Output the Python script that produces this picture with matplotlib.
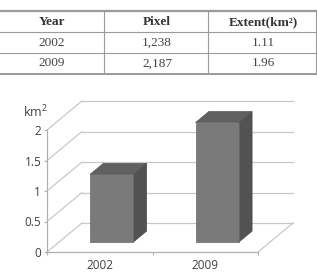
import matplotlib.pyplot as plt
from matplotlib.patches import Polygon

# table data
col_labels = ["Year", "Pixel", "Extent(km\u00b2)"]
table_years = ["2002", "2009"]
table_pixels = ["1,238", "2,187"]
table_extent = ["1.11", "1.96"]

# chart data
years = ["2002", "2009"]
extent = [1.11, 1.96]
y_ticks = [0, 0.5, 1, 1.5, 2]

plt.rcParams['mathtext.fontset'] = 'custom'
plt.rcParams['mathtext.rm'] = 'Open Sans'

fig = plt.figure(figsize=(3.17, 2.74), dpi=100)

# ---- table drawn in pixel coordinates ----
axt = fig.add_axes([0, 0, 1, 1])
axt.set_xlim(0, 317)
axt.set_ylim(274, 0)
axt.axis("off")

line_c = "#9a9a9a"
axt.plot([0, 317], [11, 11], color=line_c, lw=1.6)
axt.plot([0, 317], [32, 32], color=line_c, lw=0.8)
axt.plot([0, 317], [53, 53], color=line_c, lw=0.8)
axt.plot([0, 317], [73.5, 73.5], color=line_c, lw=1.4)
for xv in [104, 208, 315.5]:
    axt.plot([xv, xv], [11, 73.5], color=line_c, lw=0.8)

col_x = [52, 157, 263]
serif = "Liberation Serif"
for cx, lab in zip(col_x, col_labels):
    axt.text(cx, 22, lab, ha="center", va="center",
             family=serif, weight="bold", fontsize=9.5, color="#333333")
for i, row_y in enumerate([43, 63.5]):
    for cx, val in zip(col_x, [table_years[i], table_pixels[i], table_extent[i]]):
        axt.text(cx, row_y, val, ha="center", va="center",
                 family=serif, fontsize=9.5, color="#444444")

# ---- pseudo 3D column chart ----
ax = fig.add_axes([47 / 317, 22 / 274, 211 / 317, 122 / 274])
ax.set_xlim(0, 2)
ax.set_ylim(0, 2)
ax.patch.set_alpha(0)

XS = 211 / 2   # px per x unit
YS = 122 / 2   # px per y unit
DX = 35 / XS   # full depth offset in data units
DY = 29 / YS

grid_c = "#c8c8c8"
for v in y_ticks:
    ax.plot([DX, 2 + DX], [v + DY, v + DY], color=grid_c, lw=0.9, clip_on=False, zorder=1)
    ax.plot([0, DX], [v, v + DY], color=grid_c, lw=0.9, clip_on=False, zorder=1)
ax.plot([2, 2 + DX], [0, DY], color=grid_c, lw=0.9, clip_on=False, zorder=1)

for s in ["top", "right"]:
    ax.spines[s].set_visible(False)
for s in ["left", "bottom"]:
    ax.spines[s].set_color("#b0b0b0")
    ax.spines[s].set_linewidth(0.9)

ax.set_yticks(y_ticks)
ax.set_yticklabels(["0", "0.5", "1", "1.5", "2"])
ax.tick_params(axis="y", length=2.2, width=0.8, color="#b0b0b0", pad=2,
               labelsize=8.5, labelcolor="#404040")
ax.set_xticks([0, 1, 2])
ax.set_xticklabels([])
ax.set_xticks([0.5, 1.5], minor=True)
ax.set_xticklabels(years, minor=True)
ax.tick_params(axis="x", which="major", length=2.2, width=0.8, color="#b0b0b0")
ax.tick_params(axis="x", which="minor", length=0, pad=5,
               labelsize=8.5, labelcolor="#404040")
for lab in ax.get_xticklabels(minor=True) + ax.get_yticklabels():
    lab.set_family("Open Sans")

ax.text(-0.11, 2.3, "km$^2$", ha="center", va="center", fontsize=9,
        family="Open Sans", color="#404040")

# bars
w = 0.41
df, db = 0.34, 0.72
centers = [0.5, 1.5]
front_x = [c - w / 2 + df * DX for c in centers]
bars = ax.bar(front_x, extent, width=w, bottom=df * DY, align="edge",
              color="#7a7a7a", edgecolor="#666666", lw=0.5, zorder=4)
for b in bars:
    b.set_clip_on(False)
ddx, ddy = (db - df) * DX, (db - df) * DY
for x0, v in zip(front_x, extent):
    x1 = x0 + w
    y0 = df * DY
    y1 = v + df * DY
    side = Polygon([(x1, y0), (x1 + ddx, y0 + ddy), (x1 + ddx, y1 + ddy), (x1, y1)],
                   closed=True, facecolor="#525252", edgecolor="#4a4a4a", lw=0.5,
                   zorder=3, clip_on=False)
    top = Polygon([(x0, y1), (x1, y1), (x1 + ddx, y1 + ddy), (x0 + ddx, y1 + ddy)],
                  closed=True, facecolor="#606060", edgecolor="#555555", lw=0.5,
                  zorder=3, clip_on=False)
    ax.add_patch(side)
    ax.add_patch(top)

fig.savefig("out.png", dpi=100)
